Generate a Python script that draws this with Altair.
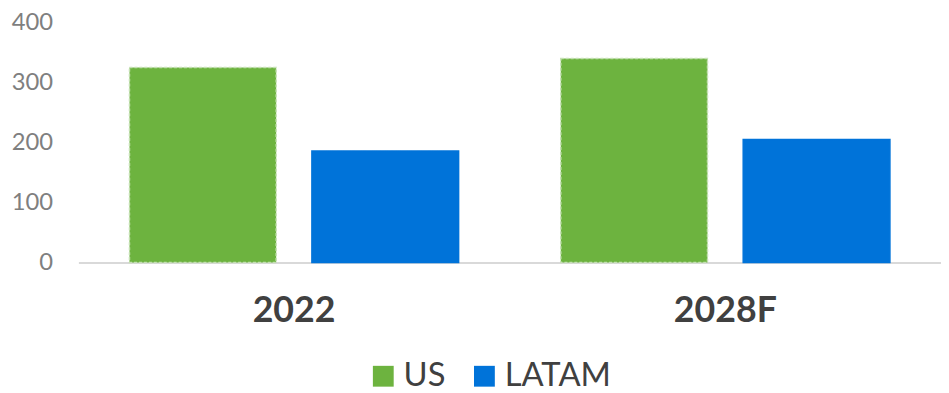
import altair as alt
import pandas as pd

years = ["2022", "2028F"]
series = ["US", "LATAM"]
us_values = [325, 340]
latam_values = [186, 205]
colors = ["#6db33f", "#0073d9"]
y_ticks = [0, 100, 200, 300, 400]

rows = []
for i, yr in enumerate(years):
    rows.append({"year": yr, "series": "US", "value": us_values[i]})
    rows.append({"year": yr, "series": "LATAM", "value": latam_values[i]})
df = pd.DataFrame(rows)

chart = alt.Chart(df).mark_bar(strokeWidth=1.5).encode(
    x=alt.X(
        "year:N", sort=years,
        scale=alt.Scale(paddingInner=0, paddingOuter=0),
        axis=alt.Axis(title=None, labelAngle=0, labelFontSize=36, labelFontWeight="bold",
                      labelColor="#404040", labelFont="Lato", ticks=False, labelPadding=32,
                      domainColor="#d9d9d9", domainWidth=2),
    ),
    xOffset=alt.XOffset("series:N", sort=series,
                        scale=alt.Scale(paddingInner=0.1957, paddingOuter=0.28)),
    y=alt.Y(
        "value:Q", scale=alt.Scale(domain=[0, 400]),
        axis=alt.Axis(title=None, values=y_ticks, grid=False, domain=False, ticks=False,
                      labelPadding=26, labelFontSize=24, labelColor="#7f7f7f", labelFont="Lato"),
    ),
    color=alt.Color(
        "series:N", sort=series,
        scale=alt.Scale(domain=series, range=colors),
        legend=alt.Legend(title=None, orient="none", legendX=291, legendY=340,
                          direction="horizontal", symbolType="square", symbolSize=441,
                          symbolStrokeWidth=0, labelFontSize=33, labelColor="#404040",
                          labelFont="Lato", columnPadding=22, labelOffset=4),
    ),
    stroke=alt.condition(alt.datum.series == "US", alt.value("#c5e0b4"), alt.value("#0073d9")),
    strokeDash=alt.condition(alt.datum.series == "US", alt.value([3, 2]), alt.value([1, 0])),
).properties(
    width=870, height=242,
    autosize=alt.AutoSizeParams(type="none"),
    padding={"left": 71, "top": 13, "right": 0, "bottom": 130},
).configure_view(stroke=None)

chart.save("out.html", embed_options={"renderer": "svg", "actions": False})
